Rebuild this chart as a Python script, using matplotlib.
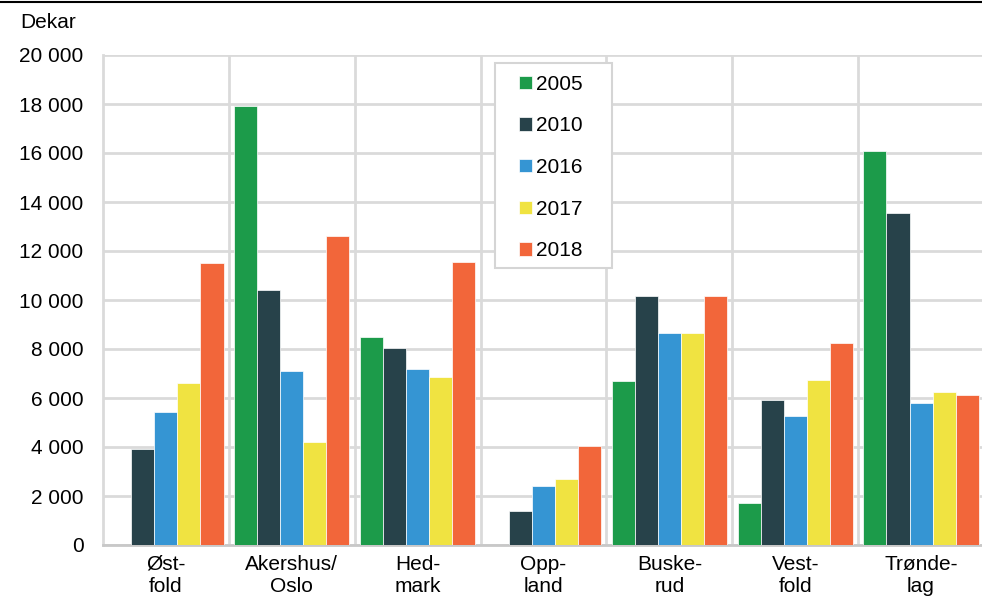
import numpy as np
import matplotlib.pyplot as plt
from matplotlib.patches import Rectangle
from matplotlib.ticker import FuncFormatter, FixedLocator

plt.rcParams['font.family'] = ['Liberation Sans', 'DejaVu Sans']

# Data (dekar)
fylker = ['Øst-\nfold', 'Akershus/\nOslo', 'Hed-\nmark', 'Opp-\nland',
          'Buske-\nrud', 'Vest-\nfold', 'Trønde-\nlag']
years = ['2005', '2010', '2016', '2017', '2018']
v2005 = [0, 17900, 8500, 0, 6700, 1700, 16100]
v2010 = [3900, 10400, 8050, 1380, 10150, 5920, 13550]
v2016 = [5420, 7100, 7200, 2400, 8650, 5280, 5800]
v2017 = [6600, 4200, 6850, 2700, 8650, 6730, 6230]
v2018 = [11500, 12600, 11550, 4050, 10150, 8230, 6130]
series = [v2005, v2010, v2016, v2017, v2018]
colors = ['#1c9b4a', '#27424a', '#3595d3', '#f0e341', '#f2663a']

fs = 15
fig = plt.figure(figsize=(9.82, 5.99), dpi=100)
ax = fig.add_axes([103/982, 54/599, 1 - 103/982 + 0.002, 490/599])

x = np.arange(len(fylker))
w = 0.183
for i, (vals, c, lab) in enumerate(zip(series, colors, years)):
    ax.bar(x + (i - 2) * w, vals, width=w, color=c, label=lab,
           edgecolor='white', linewidth=0.5, zorder=3)

ax.set_xlim(-0.5, len(fylker) - 0.5)
ax.set_ylim(0, 20000)
ax.set_yticks(np.arange(0, 20001, 2000))
ax.yaxis.set_major_formatter(FuncFormatter(lambda v, p: f'{int(v):,}'.replace(',', ' ')))
ax.set_xticks(x)
ax.set_xticklabels(fylker, fontsize=fs, linespacing=1.22)
ax.xaxis.set_minor_locator(FixedLocator(x[:-1] + 0.5))
ax.tick_params(axis='both', which='both', length=0)
ax.tick_params(axis='y', labelsize=fs, pad=14)
ax.tick_params(axis='x', pad=7)

ax.grid(axis='y', which='major', color='#dadada', linewidth=2, zorder=0)
ax.grid(axis='x', which='minor', color='#dadada', linewidth=2, zorder=0)
ax.grid(axis='x', which='major', visible=False)
ax.set_axisbelow(True)

for s in ['top', 'right']:
    ax.spines[s].set_visible(False)
ax.spines['left'].set_color('#dadada')
ax.spines['left'].set_linewidth(2)
ax.spines['bottom'].set_color('#c8c8c8')
ax.spines['bottom'].set_linewidth(2)

# legend box drawn separately (wider side padding than matplotlib allows)
box = Rectangle((0.4448, 0.5653), 0.1331, 0.4184, transform=ax.transAxes,
                facecolor='white', edgecolor='#d5d5d5', linewidth=1.5, zorder=4)
ax.add_patch(box)
leg = ax.legend(loc='upper left', bbox_to_anchor=(0.4727, 0.960), borderaxespad=0,
                fontsize=fs, frameon=False,
                handlelength=0.6, handleheight=0.6, handletextpad=0.2,
                labelspacing=1.09, borderpad=0)
leg.set_zorder(5)

fig.text(20/982, 1 - 22/599, 'Dekar', fontsize=fs, ha='left', va='center')
fig.add_artist(plt.Line2D([0, 1], [1 - 1.5/599, 1 - 1.5/599], color='black', linewidth=1.5,
                          transform=fig.transFigure))

fig.savefig('out.png', dpi=100)
